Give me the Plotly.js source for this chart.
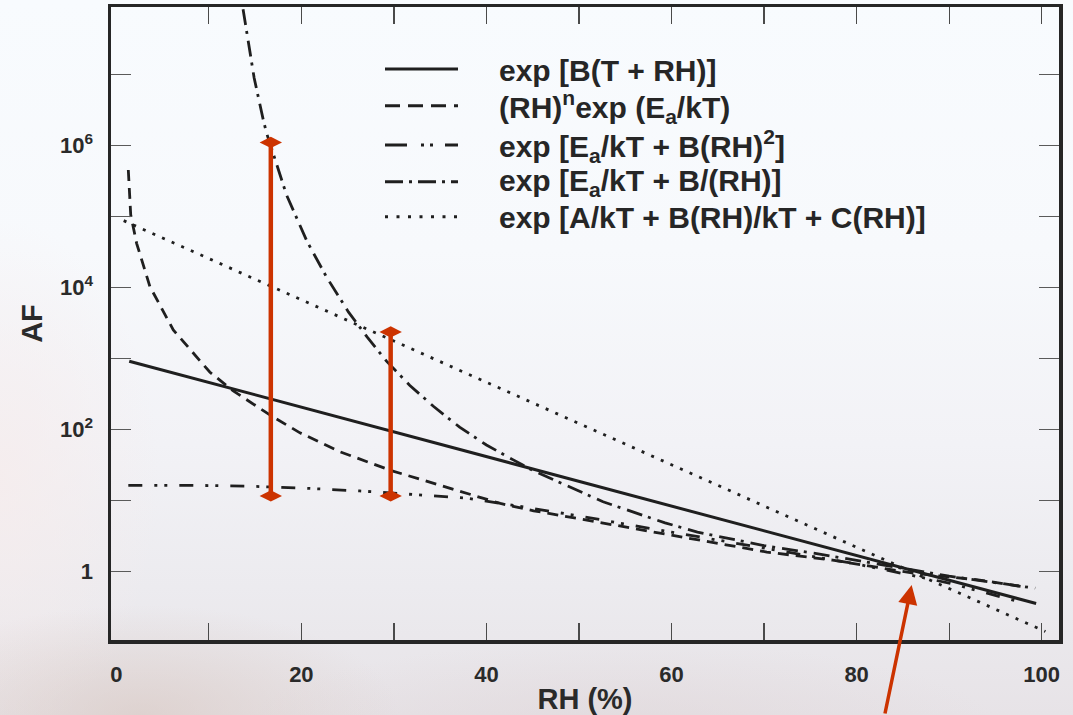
<!DOCTYPE html>
<html>
<head>
<meta charset="utf-8">
<script src="https://cdn.plot.ly/plotly-3.0.1.min.js"></script>
<style>
  html, body { margin: 0; padding: 0; }
  body {
    width: 1073px; height: 715px; overflow: hidden;
    background:
      radial-gradient(ellipse 260px 110px at 140px 715px, rgba(214,196,188,0.55), rgba(214,196,188,0) 100%),
      radial-gradient(ellipse 380px 90px at 620px 730px, rgba(222,212,214,0.55), rgba(222,212,214,0) 100%),
      radial-gradient(ellipse 160px 260px at 0px 480px, rgba(246,236,236,0.8), rgba(246,236,236,0) 100%),
      linear-gradient(to bottom, #f8fbfe 0%, #f7f9fc 35%, #f2f2f6 62%, #ecebef 82%, #e7e3e7 100%);
  }
  #chart { width: 1073px; height: 715px; }
</style>
</head>
<body>
<div id="chart"></div>
<script>
// ---------- data ----------
const seriesNames = [
  'exp [B(T + RH)]',
  '(RH)<sup>n</sup>exp (E<sub>a</sub>/kT)',
  'exp [E<sub>a</sub>/kT + B(RH)<sup>2</sup>]',
  'exp [E<sub>a</sub>/kT + B/(RH)]',
  'exp [A/kT + B(RH)/kT + C(RH)]'
];

// exp[B(T+RH)]  (solid)
const rhSolid = [1.4, 20, 40, 60, 80, 99.4];
const afSolid = [910, 205, 41, 8.2, 1.65, 0.35];

// (RH)^n exp(Ea/kT)  (dashed)
const rhDash = [1.3, 1.56, 2.2, 3.64, 6.16, 10.1, 12.6, 16.7, 19.85, 24.2, 29.65, 34.3, 41.5, 45.1, 57.7, 70.3, 77.4, 86.3, 93.3, 98.4];
const afDash = [450000, 105000, 41700, 10200, 2510, 640, 350, 156, 89, 48, 26.3, 17.4, 9.0, 7.1, 3.6, 1.86, 1.43, 0.93, 0.75, 0.59];

// exp[Ea/kT + B(RH)^2]  (dash-dot-dot)
const rhQuad = [1.3, 8.3, 14.1, 20.2, 26.3, 32.1, 37.9, 43.3, 50, 60, 70, 80, 90, 97.6];
const afQuad = [16.2, 16.2, 15.8, 14.8, 13.5, 12.0, 10.7, 8.3, 6.0, 3.55, 2.14, 1.26, 0.68, 0.37];

// exp[Ea/kT + B/(RH)]  (dash-dot)
const rhInv = [13.7, 14.9, 15.9, 16.25, 18.4, 20.6, 22.7, 25.1, 27.1, 29.2, 31.7, 34.3, 37.1, 40.0, 42.9, 45.0, 52.6, 59.3, 62.8, 70, 76, 82.8, 90, 99.3];
const afInv = [8.3e7, 8.9e6, 2.24e6, 1.48e6, 2.0e5, 4.47e4, 1.41e4, 4470, 2000, 912, 417, 209, 107, 60, 37, 26.3, 9.5, 4.8, 3.55, 2.29, 1.74, 1.23, 0.85, 0.575];

// exp[A/kT + B(RH)/kT + C(RH)]  (dotted)
const rhLin = [0.8, 16.7, 43.1, 70, 100.4];
const afLin = [87000, 10400, 302, 8.3, 0.141];

// red range bars
const barRH = [16.7, 29.65];
const barTop = [1.1e6, 2350];
const barBottom = [11.5, 11.5];

// axis ticks
const xTickVals = [10, 20, 30, 40, 50, 60, 70, 80, 90, 100];
const xLabelVals = [0, 20, 40, 60, 80, 100];
const xLabelText = ['0', '20', '40', '60', '80', '100'];
const yLabelVals = [1, 100, 1e4, 1e6];
const yLabelText = ['1', '10<sup>2</sup>', '10<sup>4</sup>', '10<sup>6</sup>'];
const yMinorVals = [10, 1e3, 1e5, 1e7];

// ---------- styles ----------
const ink = '#1f1f1f';
const red = '#cc3300';
const dashStyles = ['solid', '11px,7px', '14px,12px,3px,7px,3px,12px', '16px,6px,3px,7px', '3px,7.5px'];
const legendDash = ['solid', '15px,8px', '22px,14px,3px,6px,3px,12px', '18px,6px,3px,6px', '3px,8.5px'];
const FONT = 'Liberation Sans, Arial, Helvetica, sans-serif';

const xs = [rhSolid, rhDash, rhQuad, rhInv, rhLin];
const ys = [afSolid, afDash, afQuad, afInv, afLin];

const traces = xs.map((x, i) => ({
  type: 'scatter', mode: 'lines', x: x, y: ys[i],
  name: seriesNames[i], showlegend: false, hoverinfo: 'skip',
  line: { color: ink, width: i === 0 ? 3 : 2.8, dash: dashStyles[i] }
}));

barRH.forEach((rh, i) => {
  traces.push({
    type: 'scatter', mode: 'lines+markers',
    x: [rh, rh], y: [barBottom[i], barTop[i]],
    showlegend: false, hoverinfo: 'skip',
    line: { color: red, width: 4.5 },
    marker: { symbol: 'diamond-wide', size: 16, color: red }
  });
});

// ---------- manual legend (line samples + labels) ----------
const plotL = 111, plotR = 1059, plotT = 7, plotB = 640;
const px2x = p => (p - plotL) / (plotR - plotL);
const py2y = p => (plotB - p) / (plotB - plotT);
const legendRowsPx = [69, 105.7, 145, 181.7, 216.7];

const shapes = [];
const annotations = [];
legendRowsPx.forEach((ry, i) => {
  shapes.push({
    type: 'line', xref: 'paper', yref: 'paper',
    x0: px2x(385), x1: px2x(458), y0: py2y(ry), y1: py2y(ry),
    line: { color: ink, width: 3, dash: legendDash[i] }
  });
  annotations.push({
    xref: 'paper', yref: 'paper', x: px2x(497), y: py2y(ry + 1),
    xanchor: 'left', yanchor: 'middle', showarrow: false,
    text: seriesNames[i],
    font: { family: FONT, size: 30, color: '#262626', weight: 'bold' }
  });
});

// red arrow pointing to the convergence point
annotations.push({
  xref: 'x', yref: 'y', x: 85.95, y: -0.196,
  ax: -27, ay: 132, axref: 'pixel', ayref: 'pixel',
  text: '', showarrow: true, arrowhead: 2, arrowsize: 1.1,
  arrowwidth: 3.5, arrowcolor: red, standoff: 0
});

const layout = {
  width: 1073, height: 715,
  margin: { l: plotL, r: 1073 - plotR, t: plotT, b: 715 - plotB },
  paper_bgcolor: 'rgba(0,0,0,0)',
  plot_bgcolor: 'rgba(0,0,0,0)',
  showlegend: false,
  xaxis: {
    type: 'linear', range: [-0.57, 101.87],
    tickmode: 'array', tickvals: xLabelVals, ticktext: xLabelText,
    ticks: '', ticklabelstandoff: 12,
    minor: { tickmode: 'array', tickvals: xTickVals, ticks: 'inside', ticklen: 17, tickwidth: 1.3, tickcolor: '#4a4a4a', showgrid: false },
    showline: true, linewidth: 3.5, linecolor: '#262626', mirror: 'allticks',
    showgrid: false, zeroline: false,
    tickfont: { family: FONT, size: 22, color: '#2a2a2a', weight: 'bold' },
    title: { text: 'RH (%)', standoff: 8, font: { family: FONT, size: 29, color: '#2a2a2a', weight: 'bold' } }
  },
  yaxis: {
    type: 'log', range: [-0.97, 7.95],
    tickmode: 'array', tickvals: yLabelVals, ticktext: yLabelText,
    ticks: 'inside', ticklen: 20, tickwidth: 1.3, tickcolor: '#5a5a5a',
    minor: { tickmode: 'array', tickvals: yMinorVals, ticks: 'inside', ticklen: 20, tickwidth: 1.3, tickcolor: '#5a5a5a', showgrid: false },
    ticklabelstandoff: 10,
    showline: true, linewidth: 3.5, linecolor: '#262626', mirror: 'allticks',
    showgrid: false, zeroline: false,
    tickfont: { family: FONT, size: 22, color: '#2a2a2a', weight: 'bold' },
    title: { text: 'AF', standoff: 10, font: { family: FONT, size: 29, color: '#2a2a2a', weight: 'bold' } }
  },
  shapes: shapes,
  annotations: annotations
};

Plotly.newPlot('chart', traces, layout, { staticPlot: true, displayModeBar: false });
</script>
</body>
</html>
